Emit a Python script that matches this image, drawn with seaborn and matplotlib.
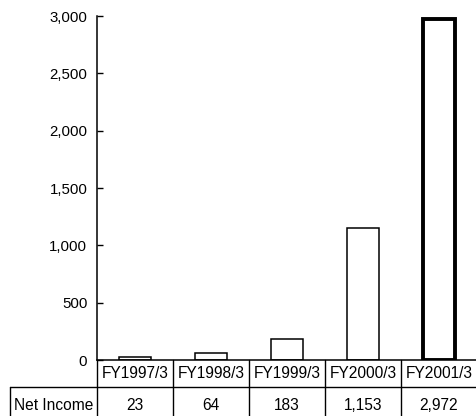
import matplotlib
matplotlib.use("Agg")
import matplotlib.pyplot as plt
import matplotlib.transforms as mtransforms
from matplotlib.ticker import FuncFormatter, MultipleLocator
import seaborn as sns
import pandas as pd

categories = ["FY1997/3", "FY1998/3", "FY1999/3", "FY2000/3", "FY2001/3"]
net_income = [23, 64, 183, 1153, 2972]
value_labels = ["23", "64", "183", "1,153", "2,972"]
row_label = "Net Income"

sns.set_theme(style="white")
plt.rcParams["font.family"] = ["Liberation Sans", "DejaVu Sans"]

W, H = 477, 416
fig = plt.figure(figsize=(W / 100, H / 100), dpi=100)
ax_left, ax_right = 97, 477
ax_top, ax_bot = 16, 360
ax = fig.add_axes([ax_left / W, (H - ax_bot) / H, (ax_right - ax_left) / W, (ax_bot - ax_top) / H])

df = pd.DataFrame({"cat": categories, "val": net_income})
sns.barplot(data=df, x="cat", y="val", ax=ax, color="white", edgecolor="black",
            linewidth=1.1, width=0.42, saturation=1)
for i, p in enumerate(ax.patches):
    p.set_facecolor("white")
    p.set_edgecolor("black")
    p.set_linewidth(2.8 if i == len(ax.patches) - 1 else 1.1)

ax.set_xlim(-0.5, len(categories) - 0.5)
ax.set_ylim(0, 3000)
ax.yaxis.set_major_locator(MultipleLocator(500))
ax.yaxis.set_major_formatter(FuncFormatter(lambda v, p: f"{int(v):,}"))
ax.tick_params(axis="y", direction="in", length=4, width=1, color="black",
               left=True, labelsize=10.8, labelcolor="black", pad=7)
ax.tick_params(axis="x", bottom=False, labelbottom=False)
ax.set_xlabel("")
ax.set_ylabel("")
for s in ["top", "right"]:
    ax.spines[s].set_visible(False)
for s in ["left", "bottom"]:
    ax.spines[s].set_color("black")
    ax.spines[s].set_linewidth(1.1)

def ay(ypix):
    # figure pixel y from top -> axes fraction
    return (ax_bot - ypix) / (ax_bot - ax_top)

trans = mtransforms.blended_transform_factory(ax.transData, ax.transAxes)
row1_bot = 387
fig_bot = 430
lw = 1.0
# column separators
for k in range(len(categories) + 1):
    ax.plot([k - 0.5, k - 0.5], [0, ay(fig_bot)], transform=trans, color="black",
            lw=lw, clip_on=False)
# horizontal line between rows
label_left_x = -0.5 + (10 - ax_left) / ((ax_right - ax_left) / len(categories))
ax.plot([label_left_x, len(categories) - 0.5 + 0.2], [ay(row1_bot), ay(row1_bot)],
        transform=trans, color="black", lw=lw, clip_on=False)
# left border of row label cell
ax.plot([label_left_x, label_left_x], [ay(row1_bot), ay(fig_bot)], transform=trans,
        color="black", lw=lw, clip_on=False)

for i, c in enumerate(categories):
    ax.text(i, ay(373), c, transform=trans, ha="center", va="center", fontsize=11.2,
            color="black", clip_on=False)
    ax.text(i, ay(406), value_labels[i], transform=trans, ha="center", va="center",
            fontsize=11.2, color="black", clip_on=False)
ax.text((label_left_x - 0.5) / 2, ay(406), row_label, transform=trans, ha="center",
        va="center", fontsize=11.2, color="black", clip_on=False)

fig.savefig("out.png", dpi=100)
